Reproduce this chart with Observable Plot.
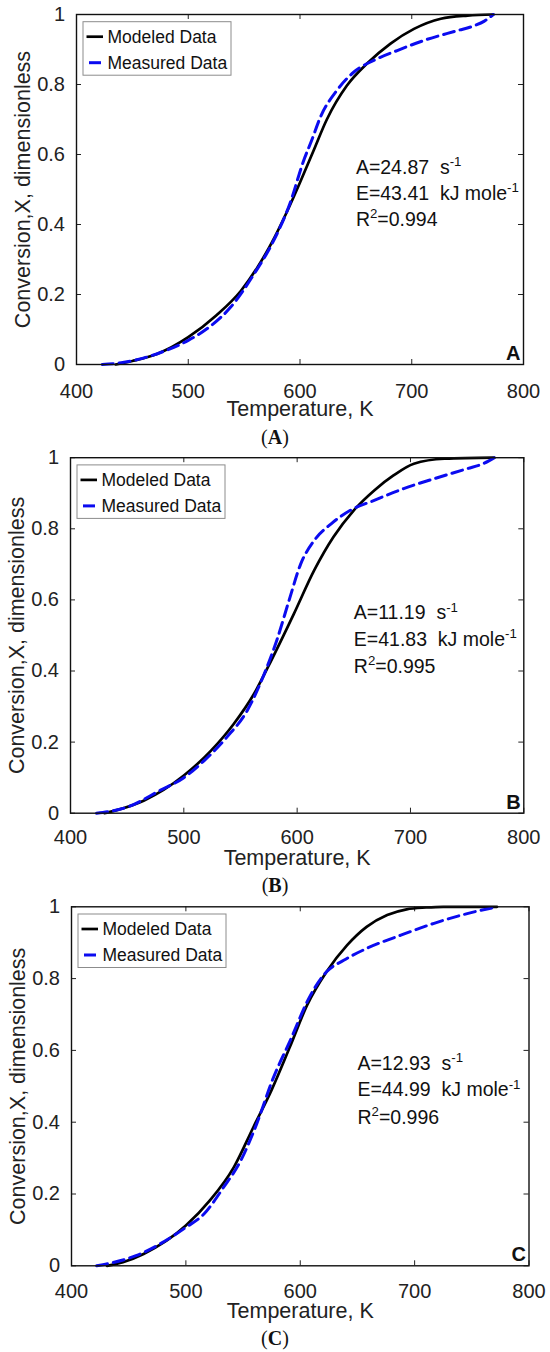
<!DOCTYPE html>
<html><head><meta charset="utf-8">
<script src="https://cdn.jsdelivr.net/npm/d3@7"></script>
<script src="https://cdn.jsdelivr.net/npm/@observablehq/plot@0.6"></script>
<style>
body{margin:0;background:#fff;}
#wrap{position:relative;width:550px;height:1352px;overflow:hidden;background:#fff;}
.panel{position:absolute;left:0;}
.cap{position:absolute;left:0;width:550px;text-align:center;font-family:"Liberation Serif","Times New Roman",serif;font-size:20px;line-height:24px;color:#111;}
</style></head><body><div id="wrap"></div>
<script>
// ---- data ----
const xTicks = [400, 500, 600, 700, 800];
const yTicks = [0, 0.2, 0.4, 0.6, 0.8, 1];
const seriesNames = ["Modeled Data", "Measured Data"];
const xTitle = "Temperature, K";
const yTitle = "Conversion,X, dimensionless";

const modeledA_T = [435,450,472,500,525,547,562,577,591,600,612,624,642,660,681,702,726,750,773];
const modeledA_X = [0,0.01,0.03,0.078,0.14,0.21,0.278,0.362,0.455,0.52,0.61,0.7,0.797,0.86,0.917,0.959,0.988,0.997,1];
const measuredA_T = [423,440,457,480,500,520,538,559,575,591,603,611,618,633,648,666,687,711,741,755,765,773];
const measuredA_X = [0,0.005,0.016,0.04,0.069,0.11,0.164,0.259,0.345,0.46,0.58,0.645,0.705,0.783,0.835,0.869,0.897,0.926,0.954,0.967,0.981,1];
const annoA = ["A=24.87  s^-1", "E=43.41  kJ mole^-1", "R^2=0.994"];

const modeledB_T = [430,440,465,500,524,544,562,578,597,615,632,650,668,685,703,730,774];
const modeledB_X = [0,0.008,0.036,0.106,0.176,0.251,0.336,0.435,0.56,0.683,0.777,0.852,0.908,0.95,0.983,0.997,1];
const measuredB_T = [423,450,479,500,518,538,556,571,582,593,603,615,630,647,668,694,721,750,764,774];
const measuredB_X = [0,0.017,0.064,0.1,0.148,0.214,0.289,0.392,0.486,0.6,0.70,0.767,0.814,0.852,0.88,0.913,0.941,0.969,0.983,1];
const annoB = ["A=11.19  s^-1", "E=41.83  kJ mole^-1", "R^2=0.995"];

const modeledC_T = [431,445,463,500,521,542,559,575,591,606,623,641,658,676,693,710,725,772];
const modeledC_X = [0,0.01,0.033,0.112,0.182,0.275,0.386,0.49,0.61,0.726,0.819,0.893,0.944,0.977,0.993,0.998,1,1];
const measuredC_T = [422,457,500,516,533,548,562,576,591,609,623,638,658,688,717,746,772];
const measuredC_X = [0,0.029,0.107,0.145,0.219,0.293,0.396,0.52,0.626,0.754,0.819,0.851,0.884,0.921,0.954,0.981,1];
const annoC = ["A=12.93  s^-1", "E=44.99  kJ mole^-1", "R^2=0.996"];

const annoTemp = 650;
const annoConv = [0.563, 0.489, 0.413];
const panelLetters = ["A", "B", "C"];

// ---- layout ----
const panels = [
  {letter: panelLetters[0], top: 0,   ml: 76, mr: 27,   mt: 14,   mb: 56,   xpad: 19, tdy: 44.5, cap: 425,
   mT: modeledA_T, mX: modeledA_X, sT: measuredA_T, sX: measuredA_X, anno: annoA},
  {letter: panelLetters[1], top: 443, ml: 70, mr: 26.7, mt: 14.2, mb: 50.3, xpad: 17, tdy: 44.5, cap: 873,
   mT: modeledB_T, mX: modeledB_X, sT: measuredB_T, sX: measuredB_X, anno: annoB},
  {letter: panelLetters[2], top: 892, ml: 71, mr: 21.5, mt: 14.3, mb: 46.7, xpad: 18, tdy: 45.5, cap: 1326,
   mT: modeledC_T, mX: modeledC_X, sT: measuredC_T, sX: measuredC_X, anno: annoC}
];

const W = 550, H = 420;
const BLUE = "#0b0bf0";
const wrap = document.getElementById("wrap");

function supify(svg, fs) {
  d3.select(svg).selectAll("text").each(function () {
    const s = this.textContent;
    const m = s.match(/^(.*?)\^(\S+?)(=.*)?$/);
    if (!m) return;
    const el = d3.select(this);
    el.text(null).style("white-space", "pre");
    el.append("tspan").text(m[1]);
    el.append("tspan").attr("dy", -0.4 * fs).attr("font-size", 0.68 * fs).text(m[2]);
    if (m[3]) el.append("tspan").attr("dy", 0.4 * fs).text(m[3]);
  });
}

panels.forEach(p => {
  const modeled = p.mT.map((t, i) => ({T: t, X: p.mX[i]}));
  const measured = p.sT.map((t, i) => ({T: t, X: p.sX[i]}));
  const fw = W - p.ml - p.mr, fh = H - p.mt - p.mb, tk = 5;
  const svg = Plot.plot({
    width: W, height: H,
    marginLeft: p.ml, marginRight: p.mr, marginTop: p.mt, marginBottom: p.mb,
    x: {domain: [400, 800]},
    y: {domain: [0, 1]},
    style: {fontFamily: "'Liberation Sans', Arial, sans-serif", fontSize: "20px", color: "#222", background: "transparent", overflow: "visible"},
    marks: [
      Plot.axisX({anchor: "bottom", ticks: xTicks, tickSize: 0, tickPadding: p.xpad, tickFormat: d => String(d), label: null}),
      Plot.axisY({anchor: "left", ticks: yTicks, tickSize: 0, tickPadding: 11.5, tickFormat: d => String(d), label: null}),
      Plot.ruleX(xTicks, {x: d => d, insetTop: fh - tk, stroke: "#222"}),
      Plot.ruleX(xTicks, {x: d => d, insetBottom: fh - tk, stroke: "#222"}),
      Plot.ruleY(yTicks, {y: d => d, insetRight: fw - tk, stroke: "#222"}),
      Plot.ruleY(yTicks, {y: d => d, insetLeft: fw - tk, stroke: "#222"}),
      Plot.line(modeled, {x: "T", y: "X", stroke: "#000", strokeWidth: 2.7, curve: "monotone-x"}),
      Plot.line(measured, {x: "T", y: "X", stroke: BLUE, strokeWidth: 3, strokeDasharray: "11,6", curve: "monotone-x"}),
      Plot.frame({stroke: "#111", strokeWidth: 1.4}),
      Plot.text(p.anno, {x: annoTemp, y: (d, i) => annoConv[i], text: d => d, textAnchor: "start", lineAnchor: "middle", fontSize: 19.5, fill: "#111"}),
      Plot.text([xTitle], {frameAnchor: "bottom", dy: p.tdy, text: d => d, textAnchor: "middle", lineAnchor: "middle", fontSize: 21.5}),
      Plot.text([yTitle], {frameAnchor: "left", dx: -53, rotate: -90, text: d => d, textAnchor: "middle", lineAnchor: "middle", fontSize: 21.5}),
      Plot.text([p.letter], {frameAnchor: "bottom-right", dx: -3, dy: -11, text: d => d, textAnchor: "end", lineAnchor: "middle", fontWeight: "bold", fontSize: 20, fill: "#111"})
    ]
  });
  supify(svg, 19.5);

  // legend box
  const g = d3.select(svg).append("g").attr("text-anchor", "start");
  const bx = p.ml + 7, by = p.mt + 7.7;
  g.append("rect").attr("x", bx).attr("y", by).attr("width", 148).attr("height", 53.5)
    .attr("fill", "white").attr("stroke", "#8c8c8c").attr("stroke-width", 1);
  seriesNames.forEach((name, i) => {
    const cy = by + 15 + i * 26;
    if (i === 0) {
      g.append("line").attr("x1", bx + 3.5).attr("x2", bx + 20).attr("y1", cy).attr("y2", cy)
        .attr("stroke", "#000").attr("stroke-width", 2.7);
    } else {
      g.append("line").attr("x1", bx + 6).attr("x2", bx + 18).attr("y1", cy).attr("y2", cy)
        .attr("stroke", BLUE).attr("stroke-width", 3);
    }
    g.append("text").attr("x", bx + 24.5).attr("y", cy).attr("dy", "0.35em")
      .attr("text-anchor", "start").attr("font-size", 17.5).attr("fill", "#111").text(name);
  });

  const holder = document.createElement("div");
  holder.className = "panel";
  holder.style.top = p.top + "px";
  holder.appendChild(svg);
  wrap.appendChild(holder);

  const cap = document.createElement("div");
  cap.className = "cap";
  cap.style.top = p.cap + "px";
  cap.innerHTML = "(<b>" + p.letter + "</b>)";
  wrap.appendChild(cap);
});
</script>
</body></html>
